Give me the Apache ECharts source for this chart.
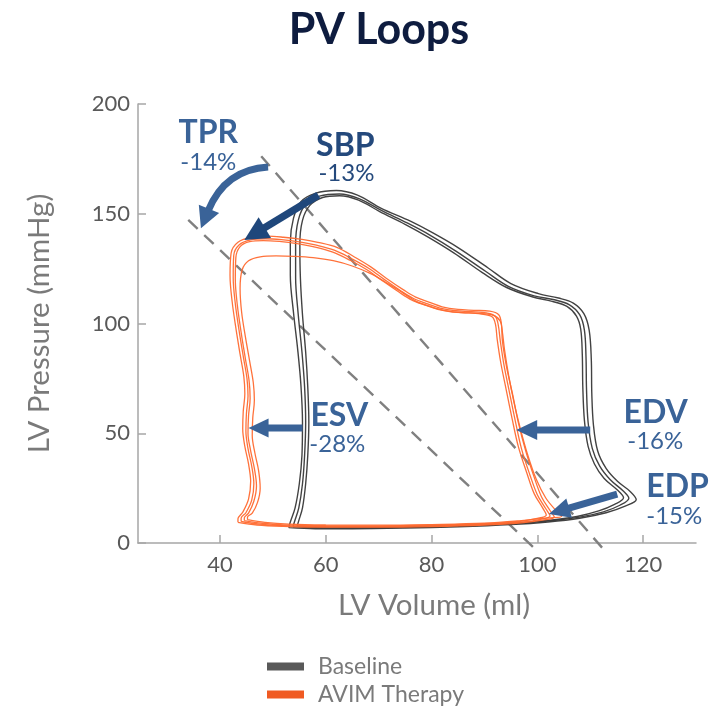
<!DOCTYPE html>
<html>
<head>
<meta charset="utf-8">
<script src="https://cdn.jsdelivr.net/npm/echarts@6/dist/echarts.min.js"></script>
<style>
  html, body { margin: 0; padding: 0; background: #ffffff; }
  #chart { width: 728px; height: 710px; }
</style>
</head>
<body>
<div id="chart"></div>
<script>
// Axis ticks
const volumeTicks = [40, 60, 80, 100, 120];
const pressureTicks = [0, 50, 100, 150, 200];

// Baseline PV loop cycles: [volume ml, pressure mmHg]
const baselineCycle1 = [[53.0,7.0],[58,6.5],[65,6.5],[75,6.8],[85,7.4],[95,8.4],[102,9.6],[108,11.3],[113,13.8],[116.6,16.8],[118.7,19.8],[117.6,23.4],[115.2,28],[113,34],[111.4,42],[110.6,54],[110.3,68],[110.2,84],[109.8,97],[108.8,104.5],[106.8,109.3],[104,111.6],[100.2,113.6],[95,118.2],[90.7,125.3],[85,134.6],[80,141.6],[76,146.6],[70.4,152.6],[66,158.5],[62,160.6],[58,159.3],[55.3,155.5],[53.9,148],[53.3,137],[53.3,122],[53.9,105],[54.7,88],[55.3,72],[55.6,55],[55.5,40],[55.0,27],[54.2,16],[53.3,9.6],[53.0,7.0]];
const baselineCycle2 = [[53.8,7.4],[58,7.0],[65,6.9],[75,7.1],[85,7.7],[95,8.7],[102,10.0],[108,11.8],[112.5,14.2],[115.6,17.2],[117.3,20.4],[116.2,23.8],[113.8,28.8],[111.8,35],[110.4,43],[109.6,55],[109.3,70],[109.2,85],[108.9,97],[108.0,104],[106,108.6],[103.2,110.8],[99.4,112.6],[94.6,116.8],[90.2,123.8],[84.6,133],[79.6,140.4],[75.4,145.8],[70.6,151.4],[66.4,156.8],[62.6,159.0],[58.8,158],[56.2,154.3],[54.8,147],[54.3,136],[54.3,121],[54.8,104],[55.5,87],[56.0,71],[56.2,55],[56.0,40],[55.6,27],[54.9,16],[54.1,9.8],[53.8,7.4]];
const baselineCycle3 = [[54.6,7.8],[58,7.5],[65,7.3],[75,7.5],[85,8.0],[95,9.0],[102,10.3],[107.5,12.1],[111.6,14.6],[114.6,17.6],[116.3,20.6],[115.2,24],[112.6,29.5],[110.8,36],[109.6,44],[108.9,56],[108.6,71],[108.5,86],[108.2,97.5],[107.4,103.4],[105.6,107.8],[102.8,110.1],[99,112.2],[94.2,116.4],[89.6,123.2],[84.2,132.2],[79.2,139.6],[75,145.2],[70.2,151],[66.2,156.2],[62.6,158.2],[59.4,157.4],[57,153.8],[55.6,147],[55.1,136],[55.2,121],[55.6,104],[56.2,87],[56.6,71],[56.8,55],[56.6,40],[56.2,27],[55.6,16],[54.9,10.2],[54.6,7.8]];

// AVIM therapy PV loop cycles
const therapyCycle1 = [[43.4,9.4],[47,8.2],[52,7.6],[60,7.2],[70,7.2],[80,7.5],[90,8.2],[97,9.2],[101,10.4],[103.2,11.8],[102.4,14.8],[100.8,21],[99.4,30],[97.8,42],[96.4,55],[95.3,68],[94.2,80],[93.4,92],[93.2,100],[92.7,104],[91,105.6],[88,106],[85,106.4],[82,107.6],[79.9,109.4],[77,112],[74.7,115.3],[71.5,120.5],[68.5,125.8],[65.5,130.2],[62.2,134.6],[58.5,137],[55.5,138.3],[52,139.3],[49,139.8],[46,139.3],[43.4,137],[42.1,132],[41.9,122],[42.3,110],[43.0,98],[43.8,86],[44.5,76],[44.7,68],[44.4,60],[44.3,52],[44.7,44],[45.4,36],[45.8,28],[45.4,20],[44.3,14],[43.4,11],[43.4,9.4]];
const therapyCycle2 = [[44.0,9.8],[47.5,8.6],[52,7.9],[60,7.5],[70,7.5],[80,7.8],[90,8.5],[97,9.5],[100.6,10.8],[102.4,12.3],[101.6,15.6],[100,22],[98.6,31],[97,43],[95.8,56],[94.7,69],[93.7,81],[93,92],[92.6,99.5],[92,103.4],[90.4,104.8],[87.6,105.4],[84.6,105.8],[81.6,107],[79.4,108.8],[76.6,111.4],[74.3,114.7],[71.1,120],[68.1,125.2],[65,129.4],[61.6,133.4],[58,135.8],[55,137.2],[51.6,138.2],[48.6,138.6],[45.8,138.1],[43.6,135.8],[42.6,131],[42.5,121],[42.9,109],[43.6,97],[44.4,85],[45.1,75],[45.3,67],[45.0,59],[44.9,51],[45.3,43],[46.0,35],[46.4,27],[46.0,19.5],[44.9,13.8],[44.0,11.3],[44.0,9.8]];
const therapyCycle3 = [[44.6,10.2],[48,9.0],[52,8.3],[60,7.9],[70,7.8],[80,8.1],[90,8.8],[96.5,9.8],[100,11.2],[101.7,12.8],[101,16],[99.4,22.5],[98,32],[96.4,44],[95.2,57],[94.1,70],[93.1,82],[92.4,93],[92.1,99.5],[91.5,103],[89.8,104.2],[87,104.8],[84,105.2],[81.2,106.4],[79,108.2],[76.2,110.8],[73.9,114.2],[70.7,119.5],[67.7,124.6],[64.6,128.8],[61.2,132.6],[57.6,135],[54.6,136.4],[51.2,137.4],[48.2,137.8],[45.6,137.3],[43.8,135],[43.0,130],[42.9,120],[43.3,108],[44.0,96],[44.8,84],[45.5,74],[45.7,66],[45.4,58],[45.3,50],[45.8,42],[46.5,34],[46.9,26],[46.4,19],[45.4,13.6],[44.6,11.5],[44.6,10.2]];
const therapyCycle4 = [[45.2,10.6],[48.5,9.4],[53,8.6],[60,8.2],[70,8.1],[80,8.4],[90,9.0],[97,10.2],[102,11.4],[104.6,12.2],[103.6,14.6],[101.6,20.5],[99.8,29],[98.2,40],[96.8,52],[95.6,64],[94.6,76],[93.8,88],[93.4,96],[93,101],[91.8,103.6],[89,104.6],[85.6,105],[82.4,106],[80,107.6],[77.2,110],[74.8,113.6],[71.6,118.4],[68.4,122.8],[65,126.2],[61.4,128.6],[57.6,130],[54,130.6],[50.6,130.8],[47.6,130.4],[45.4,128.6],[44.2,124.5],[43.8,116],[44.1,105],[44.8,94],[45.6,83],[46.3,73],[46.5,65],[46.2,57],[46.1,49],[46.6,41],[47.3,33],[47.6,25],[47.1,18.5],[46.1,13.6],[45.2,11.8],[45.2,10.6]];

// Arterial elastance (Ea) lines
const eaBaseline = [[47.8,176.2],[112.3,-2.3]];
const eaTherapy = [[34.0,147.2],[99.2,-1.8]];

const BASE_COLOR = '#383838';
const AVIM_COLOR = '#ff6a30';
const LEGEND_BASE = '#595959';
const LEGEND_AVIM = '#f05a22';
const NOTE_BLUE = '#3a6398';
const NOTE_NAVY = '#1f477b';
const FONT = 'Lato, "Open Sans", sans-serif';

const chart = echarts.init(document.getElementById('chart'), null, { renderer: 'canvas' });

function loopSeries(name, data, color, width) {
  return {
    name: name, type: 'line', data: data, smooth: 0.35, showSymbol: false, symbol: 'none',
    lineStyle: { color: color, width: width, opacity: 0.95 }, itemStyle: { color: color },
    silent: true, z: 3
  };
}
function eaSeries(data) {
  return {
    type: 'line', data: data, showSymbol: false, symbol: 'none', clip: false, silent: true,
    lineStyle: { color: '#808080', width: 2.4, type: [13, 9] }, z: 2
  };
}

chart.setOption({
  animation: false,
  backgroundColor: '#ffffff',
  title: {
    text: 'PV Loops', left: 374, top: 4, textAlign: 'center',
    textStyle: { fontFamily: FONT, fontSize: 43, fontWeight: 'bold', color: '#0e1c3f' }
  },
  grid: { left: 138, right: 32, top: 104, bottom: 167 },
  legend: {
    orient: 'vertical', left: 267, top: 655, padding: 0, height: 60,
    icon: 'rect', itemWidth: 37, itemHeight: 8, itemGap: 5,
    textStyle: { fontFamily: FONT, fontSize: 23, lineHeight: 22, color: '#7a7a7a', padding: [0, 0, 0, 9] },
    data: [
      { name: 'Baseline', itemStyle: { color: LEGEND_BASE } },
      { name: 'AVIM Therapy', itemStyle: { color: LEGEND_AVIM } }
    ]
  },
  xAxis: {
    type: 'value', min: 24.5, max: 130,
    name: 'LV Volume (ml)', nameLocation: 'middle', nameGap: 47,
    nameTextStyle: { fontFamily: FONT, fontSize: 29.5, color: '#7a7a7a', padding: [0, 0, 0, 34] },
    axisLine: { lineStyle: { color: '#a6a6a6', width: 1.5 } },
    axisTick: { inside: true, length: 8, customValues: volumeTicks, lineStyle: { color: '#a6a6a6', width: 1.5 } },
    axisLabel: { customValues: volumeTicks, margin: 11, fontFamily: FONT, fontSize: 22, color: '#595959' },
    splitLine: { show: false }
  },
  yAxis: {
    type: 'value', min: 0, max: 200, interval: 50,
    name: 'LV Pressure (mmHg)', nameLocation: 'middle', nameGap: 84, nameRotate: 90,
    nameTextStyle: { fontFamily: FONT, fontSize: 29.5, color: '#7a7a7a' },
    axisLine: { show: true, lineStyle: { color: '#a6a6a6', width: 1.5 } },
    axisTick: { show: true, inside: true, length: 8, lineStyle: { color: '#a6a6a6', width: 1.5 } },
    axisLabel: { margin: 8, fontFamily: FONT, fontSize: 22, color: '#595959',
      formatter: v => pressureTicks.indexOf(v) >= 0 ? String(v) : '' },
    splitLine: { show: false }
  },
  series: [
    eaSeries(eaBaseline),
    eaSeries(eaTherapy),
    loopSeries('Baseline', baselineCycle1, BASE_COLOR, 1.4),
    loopSeries('Baseline', baselineCycle2, BASE_COLOR, 1.4),
    loopSeries('Baseline', baselineCycle3, BASE_COLOR, 1.4),
    loopSeries('AVIM Therapy', therapyCycle1, AVIM_COLOR, 1.3),
    loopSeries('AVIM Therapy', therapyCycle2, AVIM_COLOR, 1.3),
    loopSeries('AVIM Therapy', therapyCycle3, AVIM_COLOR, 1.3),
    loopSeries('AVIM Therapy', therapyCycle4, AVIM_COLOR, 1.3)
  ]
});

// Annotations, anchored in volume/pressure coordinates
const arrows = [
  { from: [58.6, 158.5], to: [44.6, 138.0], color: NOTE_NAVY, width: 7.5, head: 24, headW: 24 },
  { from: [55.6, 52.4], to: [45.4, 52.4], color: NOTE_BLUE, width: 7, head: 20, headW: 19 },
  { from: [110.0, 51.5], to: [96.0, 51.5], color: NOTE_BLUE, width: 7, head: 21, headW: 20 },
  { from: [115.1, 22.3], to: [102.2, 13.2], color: NOTE_BLUE, width: 7, head: 21, headW: 20 }
];
const curvedArrow = { from: [49.1, 171.3], ctrl: [41.0, 170.2], to: [36.4, 143.4], color: NOTE_BLUE, width: 7, head: 21, headW: 22 };
const notes = [
  { at: [37.8, 186.8], text: 'TPR', bold: true, align: 'center', color: NOTE_BLUE },
  { at: [37.8, 173.6], text: '-14%', bold: false, align: 'center', color: NOTE_BLUE },
  { at: [63.7, 180.9], text: 'SBP', bold: true, align: 'center', color: '#24497c' },
  { at: [63.9, 168.6], text: '-13%', bold: false, align: 'center', color: '#24497c' },
  { at: [57.1, 57.9], text: 'ESV', bold: true, align: 'left', color: NOTE_BLUE },
  { at: [56.9, 45.1], text: '-28%', bold: false, align: 'left', color: NOTE_BLUE },
  { at: [116.3, 59.2], text: 'EDV', bold: true, align: 'left', color: NOTE_BLUE },
  { at: [117.0, 46.5], text: '-16%', bold: false, align: 'left', color: NOTE_BLUE },
  { at: [120.6, 25.5], text: 'EDP', bold: true, align: 'left', color: NOTE_BLUE },
  { at: [120.6, 12.3], text: '-15%', bold: false, align: 'left', color: NOTE_BLUE }
];

function px(p) { return chart.convertToPixel({ gridIndex: 0 }, p); }

function headPolygon(tip, dx, dy, len, w) {
  const n = Math.hypot(dx, dy); const ux = dx / n, uy = dy / n;
  const bx = tip[0] - ux * len, by = tip[1] - uy * len;
  return {
    base: [bx + ux * 2, by + uy * 2],
    points: [tip, [bx - uy * w / 2, by + ux * w / 2], [bx + uy * w / 2, by - ux * w / 2]]
  };
}

const graphics = [];
arrows.forEach(a => {
  const p0 = px(a.from), p1 = px(a.to);
  const h = headPolygon(p1, p1[0] - p0[0], p1[1] - p0[1], a.head, a.headW);
  graphics.push({ type: 'line', shape: { x1: p0[0], y1: p0[1], x2: h.base[0], y2: h.base[1] },
    style: { stroke: a.color, lineWidth: a.width, lineCap: 'butt' }, z: 10, silent: true });
  graphics.push({ type: 'polygon', shape: { points: h.points }, style: { fill: a.color }, z: 10, silent: true });
});
(function () {
  const a = curvedArrow;
  const p0 = px(a.from), c = px(a.ctrl), p1 = px(a.to);
  const h = headPolygon(p1, p1[0] - c[0], p1[1] - c[1], a.head, a.headW);
  graphics.push({ type: 'bezierCurve', shape: { x1: p0[0], y1: p0[1], x2: h.base[0], y2: h.base[1], cpx1: c[0], cpy1: c[1] },
    style: { stroke: a.color, lineWidth: a.width, fill: null, lineCap: 'butt' }, z: 10, silent: true });
  graphics.push({ type: 'polygon', shape: { points: h.points }, style: { fill: a.color }, z: 10, silent: true });
})();
notes.forEach(n => {
  const p = px(n.at);
  graphics.push({ type: 'text', x: p[0], y: p[1], z: 11, silent: true,
    style: { text: n.text, fill: n.color, fontFamily: FONT, fontSize: n.bold ? 32 : 24,
      fontWeight: n.bold ? 'bold' : 'normal', align: n.align, verticalAlign: 'middle' } });
});
chart.setOption({ graphic: graphics });
</script>
</body>
</html>
